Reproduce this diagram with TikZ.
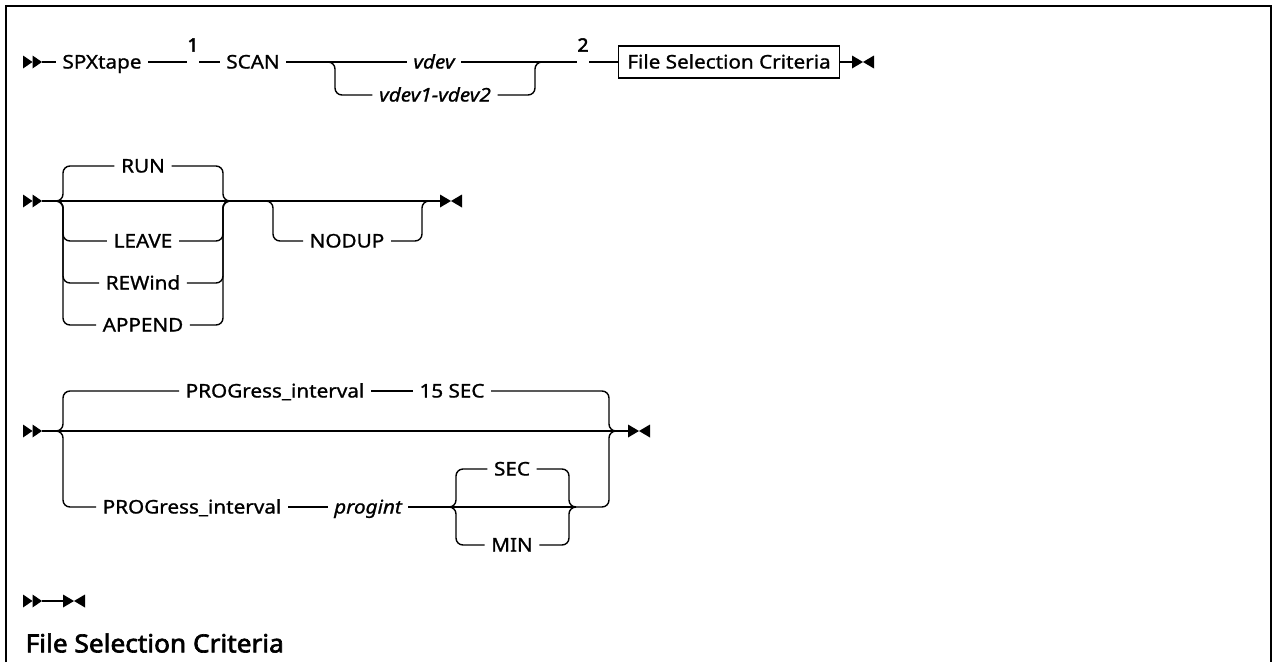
\documentclass[tikz,border=0pt]{standalone}
\usepackage{fontspec}
\setmainfont{Noto Sans}[FakeStretch=1.1, FakeBold=1.0]
\newfontfamily\bfont{Noto Sans}[FakeStretch=1.05, FakeBold=2.6]
\tikzset{
  txt/.style={font=\fontsize{18.8}{20}\selectfont, inner xsep=6pt, inner ysep=0pt, text height=13pt, text depth=0pt},
  ital/.style={txt, font=\fontsize{18.8}{20}\selectfont\itshape},
  boxn/.style={txt, draw, inner xsep=9pt, minimum height=32pt},
  note/.style={font=\bfont\fontsize{18.5}{20}\selectfont, inner sep=0pt},
  gapn/.style={inner sep=0pt, minimum width=11pt, minimum height=2pt},
  rc/.style={rounded corners=7pt},
  head/.style={font=\bfont\fontsize{25}{27}\selectfont, inner sep=0pt},
  startarr/.pic={\fill (-19,-6.5) -- (-9.5,0) -- (-19,6.5) -- cycle;
                 \fill (-9.5,-6.5) -- (0,0) -- (-9.5,6.5) -- cycle;},
  endarr/.pic={\fill (0,-6.5) -- (11,0) -- (0,6.5) -- cycle;
               \fill (22,-6.5) -- (11,0) -- (22,6.5) -- cycle;},
}
\begin{document}
\begin{tikzpicture}[x=1pt,y=-1pt,line width=1.4pt]
\useasboundingbox (0,0) rectangle (1274,662);
\fill[white] (0,0) rectangle (1274,662);
\draw[line width=2.3pt] (6,662) -- (6,6) -- (1271,6) -- (1271,662);

% ---------- Row 1 ----------
\coordinate (a1) at (42,62);
\node[txt] (spx) at (102,62) {SPXtape};
\node[gapn] (g1) at (193,62) {};
\node[note] (n1) at (193,45) {1};
\node[txt] (scan) at (253,62) {SCAN};
\coordinate (f1) at (328,62);
\coordinate (v1l) at (335,62);
\node[ital] (vdev) at (434,62) {vdev};
\node[ital] (vdevr) at (435,95) {vdev1-vdev2};
\coordinate (v1r) at (535,62);
\coordinate (j1) at (542,62);
\node[gapn] (g2) at (583,62) {};
\node[note] (n2) at (583,45) {2};
\node[boxn] (fsc) at (729,62) {File Selection Criteria};
\coordinate (e1) at (852,62);

\pic at (a1) {startarr};
\draw (a1) -- (spx);
\draw (spx) -- (g1) -- (scan);
\draw (scan) -- (vdev);
\draw (vdev) -- (g2) -- (fsc) -- (e1);
\draw[rc] (f1) -- (v1l) |- (vdevr);
\draw[rc] (vdevr) -| (v1r) -- (j1);
\pic at (e1) {endarr};

% ---------- Row 2 ----------
\coordinate (a2) at (42,201);
\coordinate (f2) at (56,201);
\coordinate (v2l) at (63,201);
\node[txt] (run) at (143,166) {RUN};
\node[txt] (leave) at (143,241) {LEAVE};
\node[txt] (rew) at (143,283) {REWind};
\node[txt] (app) at (143,325) {APPEND};
\coordinate (v2r) at (223,201);
\coordinate (j2) at (230,201);
\coordinate (f3) at (266,201);
\coordinate (v3l) at (273,201);
\node[txt] (nodup) at (347,241) {NODUP};
\coordinate (v3r) at (422,201);
\coordinate (j3) at (429,201);
\coordinate (e2) at (440,201);

\pic at (a2) {startarr};
\draw (a2) -- (e2);
\draw[rc] (f2) -- (v2l) |- (run);
\draw[rc] (f2) -- (v2l) |- (leave);
\draw[rc] (f2) -- (v2l) |- (rew);
\draw[rc] (f2) -- (v2l) |- (app);
\draw[rc] (run) -| (v2r) -- (j2);
\draw[rc] (leave) -| (v2r) -- (j2);
\draw[rc] (rew) -| (v2r) -- (j2);
\draw[rc] (app) -| (v2r) -- (j2);
\draw[rc] (f3) -- (v3l) |- (nodup);
\draw[rc] (nodup) -| (v3r) -- (j3);
\pic at (e2) {endarr};

% ---------- Row 3 ----------
\coordinate (a3) at (42,431);
\coordinate (f4) at (56,431);
\coordinate (v4l) at (63,431);
\node[txt] (p1) at (275,391) {PROGress\_interval};
\node[txt] (s15) at (452,391) {15 SEC};
\node[txt] (p2) at (192,507) {PROGress\_interval};
\node[ital] (pi) at (368,507) {progint};
\coordinate (f5) at (449,507);
\coordinate (v5l) at (456,507);
\node[txt] (sec) at (512,469) {SEC};
\node[txt] (min) at (512,545) {MIN};
\coordinate (v5r) at (569,507);
\coordinate (j5) at (576,507);
\coordinate (v4r) at (609,431);
\coordinate (j4) at (616,431);
\coordinate (e3) at (628,431);

\pic at (a3) {startarr};
\draw (a3) -- (e3);
\draw[rc] (f4) -- (v4l) |- (p1);
\draw (p1) -- (s15);
\draw[rc] (s15) -| (v4r) -- (j4);
\draw[rc] (f4) -- (v4l) |- (p2);
\draw (p2) -- (pi);
\draw (pi) -- (f5) -- (j5);
\draw[rc] (j5) -| (v4r) -- (j4);
\draw[rc] (f5) -- (v5l) |- (sec);
\draw[rc] (f5) -- (v5l) |- (min);
\draw[rc] (sec) -| (v5r) -- (j5);
\draw[rc] (min) -| (v5r) -- (j5);
\pic at (e3) {endarr};

% ---------- Row 4 ----------
\coordinate (a4) at (42,601);
\coordinate (e4) at (63,601);
\pic at (a4) {startarr};
\draw (a4) -- (e4);
\pic at (e4) {endarr};

\node[head, anchor=west] (hd) at (25,643) {File Selection Criteria};
\end{tikzpicture}
\end{document}
